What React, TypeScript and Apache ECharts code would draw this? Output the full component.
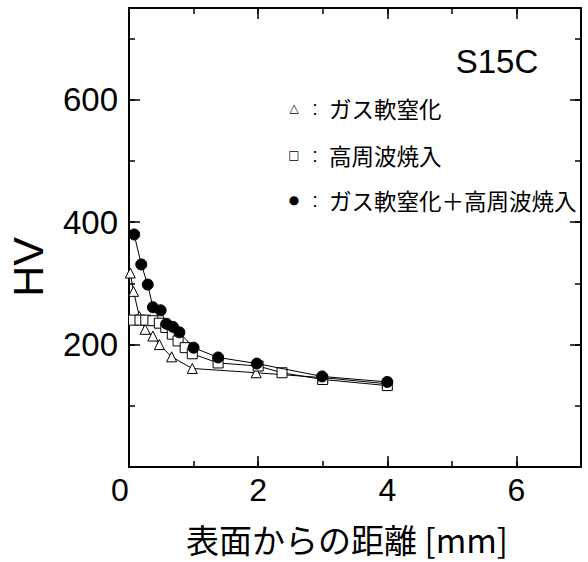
import React, { useEffect, useRef } from "react";
import * as echarts from "echarts";

const triX = [0.02, 0.07, 0.16, 0.25, 0.37, 0.47, 0.66, 0.98, 1.97, 3.0, 4.0];
const triY = [317, 287, 246, 225, 214, 200, 180, 161, 154, 146, 136];

const sqX = [0.07, 0.17, 0.26, 0.37, 0.47, 0.57, 0.67, 0.76, 0.87, 0.98, 1.38, 2.0, 2.37, 3.0, 4.0];
const sqY = [240, 240, 240, 239, 235, 228, 217, 206, 195, 185, 170, 165, 154, 143, 133];

const ciX = [0.08, 0.19, 0.29, 0.37, 0.49, 0.58, 0.68, 0.78, 1.0, 1.38, 1.98, 2.99, 4.0];
const ciY = [380, 331, 298, 261, 256, 234, 229, 220, 195, 179, 169, 148, 139];

const seriesNames = ["ガス軟窒化", "高周波焼入", "ガス軟窒化＋高周波焼入"];
const xLabels = [0, 2, 4, 6];
const yLabels = [200, 400, 600];

const xTitle = "表面からの距離 [mm]";
const yTitle = "HV";
const panelTitle = "S15C";

const zip = (xs: number[], ys: number[]) => xs.map((x, i) => [x, ys[i]]);

export default function App() {
  const ref = useRef<HTMLDivElement>(null);
  useEffect(() => {
    if (!ref.current) return;
    const chart = echarts.init(ref.current, null, { renderer: "svg" });
    const num = "Liberation Sans";
    const cjk = "Noto Sans CJK JP";
    const gridBox = { left: 129, right: 7, top: 8, bottom: 95, containLabel: false };
    const minorX = (pos: "bottom" | "top") => ({
      type: "value", gridIndex: 0, position: pos, min: 0, max: 7, interval: 1,
      axisLine: { show: true, onZero: false, lineStyle: { color: "#000", width: 2 } },
      axisTick: { show: true, inside: true, length: 6, lineStyle: { color: "#000", width: 1.5 } },
      axisLabel: { show: false }, splitLine: { show: false },
    });
    const majorX = (pos: "bottom" | "top", labels: boolean) => ({
      type: "value", gridIndex: 1, position: pos, min: 0, max: 7, interval: 2,
      axisLine: { show: false, onZero: false },
      axisTick: { show: true, inside: true, length: 11, lineStyle: { color: "#000", width: 1.5 } },
      axisLabel: {
        show: labels, margin: 7, fontSize: 32, fontFamily: num, color: "#000",
        formatter: (v: number) => (xLabels.includes(v) ? (v === 0 ? "{z|0}" : String(v)) : ""),
        rich: { z: { fontSize: 32, fontFamily: num, color: "#000", padding: [0, 18, 0, 0] } },
      },
      splitLine: { show: false },
    });
    const minorY = (pos: "left" | "right") => ({
      type: "value", gridIndex: 0, position: pos, min: 0, max: 750, interval: 100,
      axisLine: { show: true, onZero: false, lineStyle: { color: "#000", width: 2 } },
      axisTick: { show: true, inside: true, length: 6, lineStyle: { color: "#000", width: 1.5 } },
      axisLabel: { show: false }, splitLine: { show: false },
    });
    const majorY = (pos: "left" | "right", labels: boolean) => ({
      type: "value", gridIndex: 1, position: pos, min: 0, max: 750, interval: 200,
      axisLine: { show: false, onZero: false },
      axisTick: { show: true, inside: true, length: 11, lineStyle: { color: "#000", width: 1.5 } },
      axisLabel: {
        show: labels, margin: 11, fontSize: 33, fontFamily: num, color: "#000",
        formatter: (v: number) => (yLabels.includes(v) ? String(v) : ""),
      },
      splitLine: { show: false },
    });
    const legendRow = (sym: string, symSize: number, label: string, y: number) => [
      { type: "text", x: 294, y, style: { text: sym, fontSize: symSize, fontFamily: "DejaVu Sans", fill: "#000", textAlign: "center", textVerticalAlign: "middle" } },
      { type: "text", x: 315, y, style: { text: ":", fontSize: 20, fontFamily: num, fill: "#000", textAlign: "center", textVerticalAlign: "middle" } },
      { type: "text", x: 329, y, style: { text: label, fontSize: 22.5, fontFamily: cjk, fill: "#000", textAlign: "left", textVerticalAlign: "middle" } },
    ];
    const option: any = {
      animation: false,
      backgroundColor: "#fff",
      grid: [gridBox, gridBox],
      xAxis: [minorX("bottom"), minorX("top"), majorX("bottom", true), majorX("top", false)],
      yAxis: [minorY("left"), minorY("right"), majorY("left", true), majorY("right", false)],
      series: [
        {
          name: seriesNames[0], type: "line", data: zip(triX, triY), xAxisIndex: 0, yAxisIndex: 0,
          symbol: "triangle", symbolSize: 10, z: 2,
          lineStyle: { color: "#000", width: 1 },
          itemStyle: { color: "#fff", borderColor: "#000", borderWidth: 1 },
        },
        {
          name: seriesNames[1], type: "line", data: zip(sqX, sqY), xAxisIndex: 0, yAxisIndex: 0,
          symbol: "rect", symbolSize: 10, z: 3,
          lineStyle: { color: "#000", width: 1 },
          itemStyle: { color: "#fff", borderColor: "#000", borderWidth: 1 },
        },
        {
          name: seriesNames[2], type: "line", data: zip(ciX, ciY), xAxisIndex: 0, yAxisIndex: 0,
          symbol: "circle", symbolSize: 11, z: 4,
          lineStyle: { color: "#000", width: 1 },
          itemStyle: { color: "#000", borderColor: "#000", borderWidth: 1 },
        },
      ],
      graphic: [
        { type: "text", x: 497, y: 61, style: { text: panelTitle, fontSize: 33, fontFamily: num, fill: "#000", textAlign: "center", textVerticalAlign: "middle" } },
        ...legendRow("△", 12, seriesNames[0], 108),
        ...legendRow("□", 12, seriesNames[1], 155),
        ...legendRow("●", 12, seriesNames[2], 200),
        { type: "text", x: 347, y: 539, style: { text: xTitle, fontSize: 33, fontFamily: cjk, fill: "#000", textAlign: "center", textVerticalAlign: "middle" } },
        { type: "text", x: 28, y: 267, rotation: Math.PI / 2, style: { text: yTitle, fontSize: 43, fontFamily: num, fill: "#000", textAlign: "center", textVerticalAlign: "middle" } },
      ],
    };
    chart.setOption(option);
    return () => chart.dispose();
  }, []);
  return <div ref={ref} style={{ position: "fixed", left: 0, top: 0, width: 588, height: 562 }} />;
}
